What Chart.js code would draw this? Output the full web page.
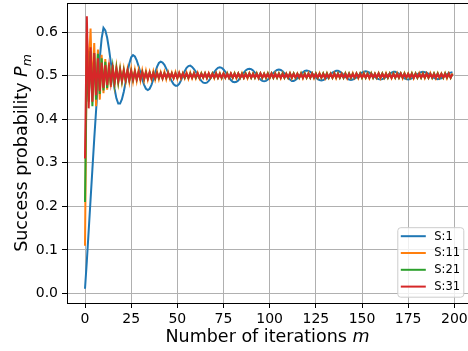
<!DOCTYPE html>
<html>
<head>
<meta charset="utf-8">
<script src="https://cdn.jsdelivr.net/npm/chart.js@4.4.1/dist/chart.umd.min.js"></script>
<style>
  html, body { margin: 0; padding: 0; background: #fff; }
  canvas { display: block; }
</style>
</head>
<body>
<canvas id="chart" width="468" height="351"></canvas>
<script>
// Success probability per iteration
const seriesNames = ['S:1', 'S:11', 'S:21', 'S:31'];
const xTicks = [0, 25, 50, 75, 100, 125, 150, 175, 200];
const yTicks = [0.0, 0.1, 0.2, 0.3, 0.4, 0.5, 0.6];

const probS1 = [
  0.011, 0.075, 0.145, 0.215, 0.285, 0.355, 0.42, 0.485, 0.54, 0.585,
  0.61, 0.604, 0.587, 0.561, 0.53, 0.498, 0.47, 0.448, 0.436, 0.436,
  0.446, 0.463, 0.485, 0.508, 0.528, 0.542, 0.547, 0.544, 0.535, 0.522,
  0.507, 0.492, 0.479, 0.47, 0.467, 0.47, 0.479, 0.492, 0.507, 0.52,
  0.529, 0.532, 0.53, 0.525, 0.516, 0.507, 0.496, 0.487, 0.48, 0.477,
  0.477, 0.481, 0.489, 0.5, 0.51, 0.518, 0.522, 0.523, 0.52, 0.515,
  0.509, 0.501, 0.494, 0.488, 0.484, 0.483, 0.484, 0.488, 0.494, 0.501,
  0.508, 0.514, 0.518, 0.519, 0.518, 0.514, 0.509, 0.502, 0.496, 0.49,
  0.486, 0.485, 0.486, 0.489, 0.495, 0.501, 0.507, 0.512, 0.515, 0.516,
  0.515, 0.512, 0.507, 0.502, 0.496, 0.491, 0.488, 0.487, 0.488, 0.491,
  0.495, 0.501, 0.506, 0.51, 0.513, 0.514, 0.513, 0.51, 0.505, 0.5,
  0.495, 0.491, 0.488, 0.488, 0.49, 0.494, 0.499, 0.504, 0.508, 0.511,
  0.512, 0.511, 0.509, 0.505, 0.501, 0.496, 0.492, 0.49, 0.489, 0.49,
  0.492, 0.495, 0.499, 0.503, 0.507, 0.509, 0.511, 0.511, 0.509, 0.506,
  0.502, 0.497, 0.494, 0.491, 0.49, 0.491, 0.493, 0.496, 0.5, 0.504,
  0.507, 0.509, 0.51, 0.509, 0.507, 0.504, 0.501, 0.497, 0.494, 0.492,
  0.491, 0.492, 0.494, 0.497, 0.501, 0.505, 0.507, 0.509, 0.509, 0.507,
  0.505, 0.501, 0.497, 0.494, 0.492, 0.491, 0.492, 0.494, 0.497, 0.5,
  0.503, 0.506, 0.508, 0.509, 0.508, 0.507, 0.504, 0.501, 0.497, 0.495,
  0.493, 0.492, 0.493, 0.494, 0.497, 0.5, 0.503, 0.506, 0.507, 0.508
];

const probS11 = [
  0.11, 0.595, 0.5, 0.608, 0.455, 0.575, 0.43, 0.56, 0.445, 0.548,
  0.46, 0.538, 0.468, 0.53, 0.474, 0.524, 0.48, 0.52, 0.484, 0.517,
  0.486, 0.515, 0.487, 0.514, 0.486, 0.515, 0.487, 0.513, 0.488, 0.512,
  0.489, 0.512, 0.49, 0.511, 0.491, 0.509, 0.492, 0.51, 0.491, 0.509,
  0.492, 0.508, 0.493, 0.509, 0.492, 0.508, 0.493, 0.507, 0.494, 0.508,
  0.493, 0.507, 0.494, 0.506, 0.494, 0.507, 0.493, 0.507, 0.494, 0.506,
  0.494, 0.507, 0.494, 0.506, 0.495, 0.506, 0.494, 0.506, 0.495, 0.505,
  0.494, 0.506, 0.495, 0.506, 0.494, 0.505, 0.495, 0.506, 0.495, 0.505,
  0.495, 0.506, 0.494, 0.505, 0.495, 0.506, 0.495, 0.505, 0.494, 0.506,
  0.495, 0.505, 0.495, 0.506, 0.494, 0.505, 0.495, 0.505, 0.495, 0.506,
  0.494, 0.505, 0.495, 0.506, 0.495, 0.505, 0.494, 0.506, 0.495, 0.505,
  0.495, 0.506, 0.494, 0.505, 0.495, 0.505, 0.495, 0.506, 0.494, 0.505,
  0.495, 0.506, 0.495, 0.505, 0.494, 0.505, 0.495, 0.506, 0.495, 0.505,
  0.494, 0.506, 0.495, 0.505, 0.495, 0.506, 0.494, 0.505, 0.495, 0.505,
  0.495, 0.506, 0.494, 0.505, 0.495, 0.506, 0.495, 0.505, 0.494, 0.505,
  0.495, 0.506, 0.495, 0.505, 0.494, 0.506, 0.495, 0.505, 0.495, 0.506,
  0.494, 0.505, 0.495, 0.506, 0.495, 0.505, 0.494, 0.505, 0.495, 0.506,
  0.495, 0.505, 0.494, 0.506, 0.495, 0.505, 0.495, 0.506, 0.494, 0.505,
  0.495, 0.506, 0.495, 0.505, 0.494, 0.505, 0.495, 0.506, 0.495, 0.505,
  0.494, 0.506, 0.495, 0.505, 0.495, 0.506, 0.494, 0.505, 0.495, 0.505
];

const probS21 = [
  0.21, 0.548, 0.44, 0.556, 0.43, 0.552, 0.445, 0.55, 0.458, 0.54,
  0.466, 0.532, 0.472, 0.525, 0.478, 0.52, 0.482, 0.517, 0.485, 0.514,
  0.487, 0.512, 0.489, 0.511, 0.49, 0.51, 0.491, 0.509, 0.492, 0.508,
  0.493, 0.508, 0.493, 0.507, 0.494, 0.507, 0.494, 0.506, 0.494, 0.506,
  0.495, 0.506, 0.494, 0.505, 0.495, 0.506, 0.495, 0.505, 0.495, 0.505,
  0.495, 0.505, 0.496, 0.505, 0.495, 0.504, 0.495, 0.505, 0.496, 0.505,
  0.495, 0.504, 0.495, 0.505, 0.496, 0.505, 0.495, 0.504, 0.495, 0.505,
  0.496, 0.505, 0.495, 0.504, 0.495, 0.505, 0.496, 0.505, 0.495, 0.504,
  0.495, 0.505, 0.496, 0.505, 0.495, 0.504, 0.495, 0.505, 0.496, 0.505,
  0.495, 0.504, 0.495, 0.505, 0.496, 0.505, 0.495, 0.504, 0.495, 0.505,
  0.496, 0.505, 0.495, 0.504, 0.495, 0.505, 0.496, 0.505, 0.495, 0.504,
  0.495, 0.505, 0.496, 0.505, 0.495, 0.504, 0.495, 0.505, 0.496, 0.505,
  0.495, 0.504, 0.495, 0.505, 0.496, 0.505, 0.495, 0.504, 0.495, 0.505,
  0.496, 0.505, 0.495, 0.504, 0.495, 0.505, 0.496, 0.505, 0.495, 0.504,
  0.495, 0.505, 0.496, 0.505, 0.495, 0.504, 0.495, 0.505, 0.496, 0.505,
  0.495, 0.504, 0.495, 0.505, 0.496, 0.505, 0.495, 0.504, 0.495, 0.505,
  0.496, 0.505, 0.495, 0.504, 0.495, 0.505, 0.496, 0.505, 0.495, 0.504,
  0.495, 0.505, 0.496, 0.505, 0.495, 0.504, 0.495, 0.505, 0.496, 0.505,
  0.495, 0.504, 0.495, 0.505, 0.496, 0.505, 0.495, 0.504, 0.495, 0.505,
  0.496, 0.505, 0.495, 0.504, 0.495, 0.505, 0.496, 0.505, 0.495, 0.504
];

const probS31 = [
  0.31, 0.636, 0.425, 0.565, 0.44, 0.552, 0.455, 0.54, 0.465, 0.53,
  0.472, 0.524, 0.478, 0.52, 0.483, 0.516, 0.486, 0.514, 0.488, 0.512,
  0.489, 0.511, 0.49, 0.511, 0.49, 0.51, 0.491, 0.509, 0.492, 0.508,
  0.492, 0.508, 0.493, 0.507, 0.493, 0.507, 0.494, 0.506, 0.494, 0.506,
  0.495, 0.506, 0.494, 0.505, 0.495, 0.506, 0.495, 0.505, 0.494, 0.505,
  0.495, 0.506, 0.495, 0.505, 0.496, 0.505, 0.495, 0.504, 0.495, 0.505,
  0.496, 0.505, 0.495, 0.504, 0.496, 0.505, 0.495, 0.505, 0.496, 0.504,
  0.496, 0.505, 0.495, 0.504, 0.496, 0.505, 0.496, 0.504, 0.495, 0.505,
  0.496, 0.504, 0.496, 0.505, 0.496, 0.504, 0.495, 0.504, 0.496, 0.505,
  0.496, 0.504, 0.496, 0.504, 0.495, 0.505, 0.496, 0.504, 0.496, 0.504,
  0.496, 0.505, 0.496, 0.504, 0.496, 0.504, 0.495, 0.504, 0.496, 0.504,
  0.496, 0.505, 0.496, 0.504, 0.496, 0.504, 0.496, 0.504, 0.495, 0.504,
  0.496, 0.504, 0.496, 0.505, 0.496, 0.504, 0.496, 0.504, 0.496, 0.504,
  0.495, 0.504, 0.496, 0.504, 0.496, 0.505, 0.496, 0.504, 0.496, 0.504,
  0.496, 0.504, 0.495, 0.504, 0.496, 0.504, 0.496, 0.505, 0.496, 0.504,
  0.496, 0.504, 0.496, 0.504, 0.495, 0.504, 0.496, 0.504, 0.496, 0.505,
  0.496, 0.504, 0.496, 0.504, 0.496, 0.504, 0.495, 0.504, 0.496, 0.504,
  0.496, 0.505, 0.496, 0.504, 0.496, 0.504, 0.496, 0.504, 0.495, 0.504,
  0.496, 0.504, 0.496, 0.504, 0.496, 0.505, 0.496, 0.504, 0.496, 0.504,
  0.495, 0.504, 0.496, 0.504, 0.496, 0.504, 0.496, 0.505, 0.496, 0.504
];

const iterations = probS1.map((_, i) => i);
const colors = ['#1f77b4', '#ff7f0e', '#2ca02c', '#d62728'];
const allSeries = [probS1, probS11, probS21, probS31];

const FONT = 'DejaVu Sans';

// writes a run of text pieces (normal / italic / subscript) centred on (cx, cy)
function drawPieces(ctx, pieces, cx, cy) {
  let total = 0;
  pieces.forEach(p => {
    ctx.font = p.font;
    p.w = ctx.measureText(p.text).width;
    total += p.w;
  });
  let x = cx - total / 2;
  ctx.textAlign = 'left';
  ctx.textBaseline = 'alphabetic';
  pieces.forEach(p => {
    ctx.font = p.font;
    ctx.fillText(p.text, x, cy + (p.dy || 0));
    x += p.w;
  });
}

const decorations = {
  id: 'decorations',
  afterDraw(chart) {
    const ctx = chart.ctx;
    const a = chart.chartArea;
    ctx.save();

    // top spine
    ctx.strokeStyle = '#000';
    ctx.lineWidth = 1;
    ctx.beginPath();
    ctx.moveTo(a.left, a.top + 0.5);
    ctx.lineTo(a.right, a.top + 0.5);
    ctx.stroke();

    ctx.fillStyle = '#000';
    // x axis title
    drawPieces(ctx, [
      { text: 'Number of iterations ', font: `17.5px "${FONT}"` },
      { text: 'm', font: `italic 17.5px "${FONT}"` }
    ], (a.left + a.right) / 2, 342);

    // y axis title, rotated
    ctx.save();
    ctx.translate(27, (a.top + a.bottom) / 2);
    ctx.rotate(-Math.PI / 2);
    drawPieces(ctx, [
      { text: 'Success probability ', font: `17.5px "${FONT}"` },
      { text: 'P', font: `italic 17.5px "${FONT}"` },
      { text: 'm', font: `italic 12.5px "${FONT}"`, dy: 3.5 }
    ], 0, 0);
    ctx.restore();

    // legend box, lower right
    const bw = 66, bh = 69.5;
    const bx = a.right - 4.7 - bw, by = a.bottom - 6.3 - bh;
    ctx.beginPath();
    ctx.roundRect(bx + 0.5, by + 0.5, bw, bh, 3);
    ctx.fillStyle = 'rgba(255,255,255,0.8)';
    ctx.fill();
    ctx.strokeStyle = '#cccccc';
    ctx.lineWidth = 1;
    ctx.stroke();

    ctx.font = `11.5px "${FONT}"`;
    ctx.textAlign = 'left';
    ctx.textBaseline = 'middle';
    chart.data.datasets.forEach((ds, i) => {
      const y = by + 9 + i * 16.8;
      ctx.strokeStyle = ds.borderColor;
      ctx.lineWidth = 2;
      ctx.beginPath();
      ctx.moveTo(bx + 3.5, y);
      ctx.lineTo(bx + 28.5, y);
      ctx.stroke();
      ctx.fillStyle = '#000';
      ctx.fillText(ds.label, bx + 37, y + 0.5);
    });

    ctx.restore();
  }
};

const ctx = document.getElementById('chart').getContext('2d');
const chart = new Chart(ctx, {
  type: 'line',
  data: {
    labels: iterations,
    datasets: allSeries.map((vals, i) => ({
      label: seriesNames[i],
      data: vals,
      borderColor: colors[i],
      backgroundColor: colors[i],
      borderWidth: 2,
      pointRadius: 0,
      tension: 0,
      fill: false,
      // later series are painted on top, as in the original
      order: allSeries.length - i
    }))
  },
  options: {
    responsive: false,
    animation: false,
    devicePixelRatio: 1,
    layout: { padding: { top: 3, left: 0, right: 0, bottom: 0 } },
    plugins: {
      legend: { display: false },
      tooltip: { enabled: false }
    },
    scales: {
      x: {
        type: 'linear',
        min: -9.75,
        max: 207.4,
        afterBuildTicks: s => { s.ticks = xTicks.map(v => ({ value: v })); },
        afterFit: s => { s.height = 48; s.paddingLeft = 0; s.paddingRight = 0; },
        ticks: {
          font: { family: FONT, size: 14 },
          color: '#000',
          padding: 3,
          maxRotation: 0,
          autoSkip: false,
          callback: v => String(v)
        },
        grid: { color: '#b0b0b0', lineWidth: 1, tickColor: '#000', tickLength: 5 },
        border: { color: '#000', width: 1 }
      },
      y: {
        min: -0.0216,
        max: 0.6667,
        afterBuildTicks: s => { s.ticks = yTicks.map(v => ({ value: v })); },
        afterFit: s => { s.width = 67; s.paddingTop = 0; s.paddingBottom = 0; },
        ticks: {
          font: { family: FONT, size: 14 },
          color: '#000',
          padding: 4,
          autoSkip: false,
          callback: v => v.toFixed(1)
        },
        grid: { color: '#b0b0b0', lineWidth: 1, tickColor: '#000', tickLength: 5 },
        border: { color: '#000', width: 1 }
      }
    }
  },
  plugins: [decorations]
});
</script>
</body>
</html>
